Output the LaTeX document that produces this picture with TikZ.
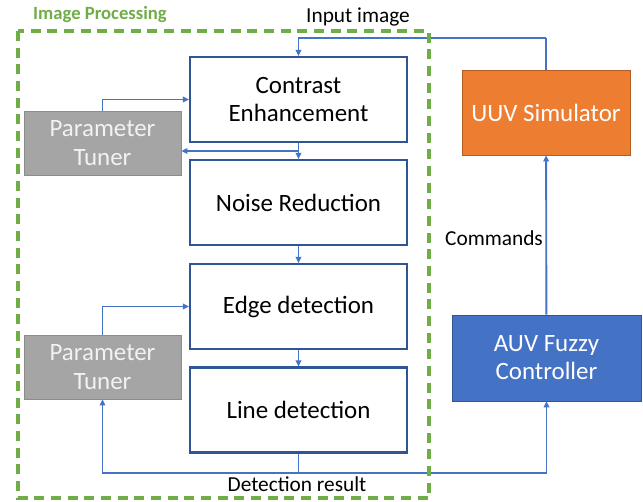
\documentclass[tikz,border=0pt]{standalone}
\usepackage{fontspec}
\setmainfont{Carlito}
\usetikzlibrary{arrows.meta}
\definecolor{stageblue}{HTML}{2F5597}
\definecolor{flowblue}{HTML}{4472C4}
\definecolor{auvblue}{HTML}{4472C4}
\definecolor{tunergray}{HTML}{A5A5A5}
\definecolor{uuvorange}{HTML}{ED7D31}
\definecolor{groupgreen}{HTML}{70AD47}

\begin{document}
\begin{tikzpicture}[
    x=0.75pt, y=-0.75pt,
    stage/.style={
        draw=stageblue,
        line width=1.6pt,
        fill=white,
        minimum width=162.75pt,
        minimum height=63.75pt,
        font=\fontsize{18.7pt}{21pt}\selectfont,
        align=center,
    },
    tuner/.style={
        draw=tunergray!85!black,
        line width=0.6pt,
        fill=tunergray,
        text=white!95!black,
        minimum width=117.75pt,
        minimum height=48pt,
        font=\fontsize{18.7pt}{21.5pt}\selectfont,
        align=center,
    },
    flow/.style={
        draw=flowblue,
        line width=1.4pt,
        -{Triangle[length=4.5pt,width=4.2pt]},
    },
    link/.style={draw=flowblue, line width=1.4pt},
    tag/.style={font=\fontsize{16pt}{19pt}\selectfont},
]
\useasboundingbox (0,0) rectangle (643,502);

% Image processing chain
\node[stage] (contrast) at (298.5, 99.5) {Contrast\\Enhancement};
\node[stage] (noise) at (298.5, 202.5) {Noise Reduction};
\node[stage] (edge) at (298.5, 306.5) {Edge detection};
\node[stage] (line) at (298.5, 410) {Line detection};

% Tuners
\node[tuner] (tunerA) at (102.5, 143) {Parameter\\Tuner};
\node[tuner] (tunerB) at (102.5, 367) {Parameter\\Tuner};

% Simulator and controller
\node[stage, draw=uuvorange!75!black, line width=0.6pt, fill=uuvorange, text=white,
      minimum width=126pt] (uuv) at (546, 112.5) {UUV Simulator};
\node[stage, draw=auvblue!75!black, line width=0.6pt, fill=auvblue, text=white,
      minimum width=141.75pt, minimum height=64.5pt] (auv) at (546.5, 358) {AUV Fuzzy\\Controller};

% Joints on the wires
\coordinate (inTop) at (546, 38);
\coordinate (fbA) at (298.5, 151);
\coordinate (det) at (298.5, 473);

\draw[link] (uuv.north) -- (inTop);
\draw[flow] (inTop) -| (contrast.north);
\draw[flow] (contrast) -- (noise);
\draw[flow] (noise) -- (edge);
\draw[flow] (edge) -- (line);
\draw[flow] (tunerA.north) |- (contrast.west);
\draw[flow] (fbA) -- (fbA -| tunerA.east);
\draw[flow] (tunerB.north) |- (edge.west);
\draw[link] (line.south) -- (det);
\draw[flow] (det) -| (tunerB.south);
\draw[flow] (det) -| (auv.south);
\draw[flow] (auv) -- (uuv);

% Labels
\node[tag] (inLabel) at (358, 17) {Input image};
\node[tag] (cmdLabel) at (494, 238) {Commands};
\node[tag] (detLabel) at (297, 484) {Detection result};
\node[font=\fontsize{14pt}{17pt}\selectfont\bfseries, text=groupgreen] (groupLabel) at (100, 15) {Image Processing};

% Group frame
\draw[groupgreen, line width=2.6pt, dash pattern=on 7.5pt off 5pt] (18,31) rectangle (429,498);

\end{tikzpicture}
\end{document}
